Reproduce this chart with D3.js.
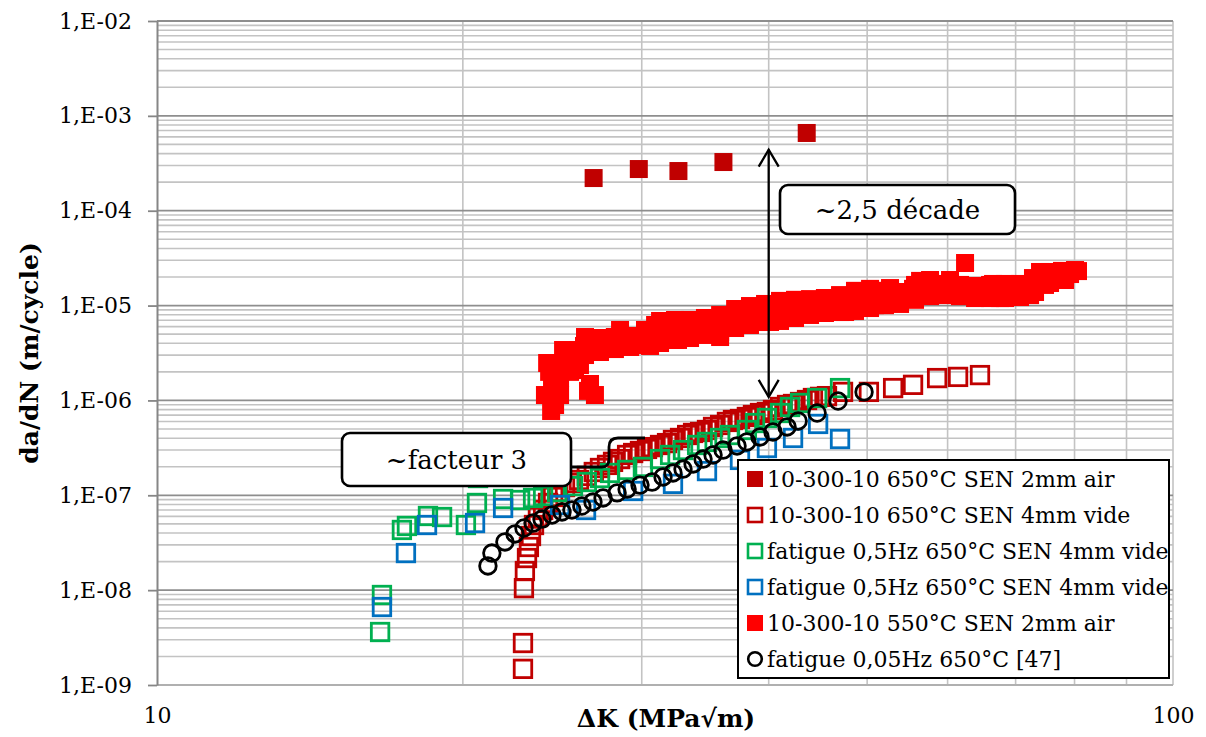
<!DOCTYPE html>
<html><head><meta charset="utf-8">
<script src="https://cdn.jsdelivr.net/npm/d3@7"></script>
<style>
html,body{margin:0;padding:0;background:#fff;}
svg{display:block;font-family:"DejaVu Serif",serif;}
</style></head>
<body><svg id="chart" width="1206" height="737"></svg>
<script>
// ---------- DATA ----------
const yTickValues = [1e-9,1e-8,1e-7,1e-6,1e-5,1e-4,1e-3,1e-2];
const yTickLabels = ["1,E-09","1,E-08","1,E-07","1,E-06","1,E-05","1,E-04","1,E-03","1,E-02"];
const xTickValues = [10,100];
const xTickLabels = ["10","100"];
const seriesNames = [
  "10-300-10 650°C SEN 2mm air",
  "10-300-10 650°C SEN 4mm vide",
  "fatigue 0,5Hz 650°C SEN 4mm vide",
  "fatigue 0,5Hz 650°C SEN 4mm vide",
  "10-300-10 550°C SEN 2mm air",
  "fatigue 0,05Hz 650°C [47]"
];
// [ΔK (MPa√m), da/dN (m/cycle)]
const s650air = [[26.9,2.21e-4],[29.8,2.75e-4],[32.6,2.62e-4],[36.1,3.26e-4],[43.6,6.6e-4]];
const s650vide = [[22.92,1.48e-9],[22.92,2.77e-9],[22.97,1.05e-8],[23.02,1.59e-8],[23.13,2.18e-8],[23.23,2.85e-8],[23.34,3.72e-8],[23.50,4.86e-8],[23.71,5.90e-8],[23.99,7.00e-8],[24.26,8.30e-8],[24.54,9.60e-8],[24.82,1.08e-7],[25.21,1.22e-7],[25.61,1.35e-7],[26.02,1.45e-7],[26.49,1.60e-7],[26.91,1.76e-7],[27.29,1.94e-7],[27.73,2.09e-7],[28.11,2.25e-7],[28.56,2.41e-7],[29.02,2.66e-7],[29.42,2.79e-7],[29.88,2.93e-7],[30.36,3.08e-7],[30.77,3.22e-7],[31.27,3.39e-7],[31.77,3.55e-7],[32.20,3.83e-7],[32.72,4.02e-7],[33.25,4.32e-7],[33.70,4.54e-7],[34.24,4.65e-7],[34.78,4.88e-7],[35.26,5.25e-7],[35.83,5.51e-7],[36.39,5.93e-7],[36.89,6.22e-7],[37.48,6.37e-7],[38.07,6.69e-7],[38.60,7.02e-7],[39.22,7.37e-7],[39.84,7.55e-7],[40.39,7.93e-7],[41.04,8.53e-7],[41.70,8.95e-7],[42.27,9.17e-7],[42.95,9.62e-7],[43.63,1.01e-6],[44.22,1.06e-6],[44.94,1.09e-6],[45.65,1.11e-6],[47.34,1.23e-6],[50.2,1.23e-6],[53.03,1.35e-6],[55.48,1.46e-6],[58.59,1.72e-6],[61.44,1.77e-6],[64.57,1.85e-6]];
const sFat05green = [[16.58,3.62e-9],[16.65,8.89e-9],[17.42,4.31e-8],[17.62,4.75e-8],[18.48,6.05e-8],[19.08,5.90e-8],[20.14,4.86e-8],[20.65,8.30e-8],[20.70,1.52e-7],[21.91,9.14e-8],[22.77,8.92e-8],[23.45,9.37e-8],[23.99,9.84e-8],[24.76,1.08e-7],[25.67,1.25e-7],[26.49,1.38e-7],[27.29,1.52e-7],[27.92,1.72e-7],[29.02,1.85e-7],[30.08,1.99e-7],[31.27,2.41e-7],[31.99,2.66e-7],[32.94,3.00e-7],[34.01,3.39e-7],[34.78,3.65e-7],[35.83,4.02e-7],[36.64,4.32e-7],[38.07,4.88e-7],[38.78,5.78e-7],[39.84,6.53e-7],[41.04,7.37e-7],[41.98,8.53e-7],[42.95,9.40e-7],[44.64,1.06e-6],[47.02,1.35e-6]];
const sFat05blue = [[16.65,6.64e-9],[17.58,2.46e-8],[18.44,4.86e-8],[20.56,5.10e-8],[21.91,7.35e-8],[24.93,7.90e-8],[26.44,7.00e-8],[29.42,1.11e-7],[32.20,1.32e-7],[34.78,1.80e-7],[37.48,2.36e-7],[39.84,3.15e-7],[42.27,4.02e-7],[44.74,5.65e-7],[47.02,3.92e-7]];
const s550air = [[24.43,7.74e-7],[24.54,1.06e-6],[24.71,1.29e-6],[24.21,2.48e-6],[24.32,2.00e-6],[24.48,1.64e-6],[24.82,2.25e-6],[25.27,2.54e-6],[25.61,2.94e-6],[25.96,3.40e-6],[26.32,3.75e-6],[26.56,1.26e-6],[26.68,1.49e-6],[26.68,4.34e-6],[27.04,4.55e-6],[27.48,4.03e-6],[27.92,3.75e-6],[28.23,4.66e-6],[28.88,4.34e-6],[29.54,4.34e-6],[30.22,4.66e-6],[30.57,3.75e-6],[31.27,5.14e-6],[31.77,6.71e-6],[32.13,5.53e-6],[32.57,4.34e-6],[33.32,5.53e-6],[34.01,5.01e-6],[34.70,5.14e-6],[35.42,5.53e-6],[36.24,5.94e-6],[36.64,7.40e-6],[37.48,7.40e-6],[38.16,8.55e-6],[38.95,6.71e-6],[39.67,8.55e-6],[40.57,7.96e-6],[41.31,1.01e-5],[42.27,8.98e-6],[42.95,1.06e-5],[43.93,9.66e-6],[44.74,1.12e-5],[45.76,1.01e-5],[46.81,1.17e-5],[47.88,9.42e-6],[48.64,1.15e-5],[49.43,1.36e-5],[50.10,1.15e-5],[51.24,1.26e-5],[52.30,1.32e-5],[53.51,1.12e-5],[54.49,1.36e-5],[55.48,1.50e-5],[56.37,1.82e-5],[57.41,1.73e-5],[58.32,1.36e-5],[59.65,1.53e-5],[61.02,1.57e-5],[62.42,2.81e-5],[62.85,1.43e-5],[64.14,1.32e-5],[65.31,1.46e-5],[66.51,1.69e-5],[68.04,1.39e-5],[69.12,1.61e-5],[70.38,1.46e-5],[71.67,1.65e-5],[72.81,1.95e-5],[73.98,2.26e-5],[75.34,1.91e-5],[76.55,2.15e-5],[77.76,2.32e-5],[79.19,2.15e-5],[80.09,2.37e-5],
  [24.09,1.14e-6],[24.65,8.95e-7],[25.79,2.09e-6],[25.10,3.40e-6],[28.56,5.53e-6],[29.88,3.84e-6],[30.92,6.24e-6],[34.24,6.71e-6],[35.83,4.66e-6],[38.78,8.98e-6],[40.12,6.71e-6],[41.98,7.40e-6],[45.44,1.20e-5],[47.56,8.55e-6],[50.89,1.01e-5],[52.66,1.53e-5],[57.01,1.32e-5],[60.33,1.86e-5],[61.72,1.26e-5],[67.57,1.20e-5],[72.33,1.29e-5],[74.82,1.65e-5],[78.30,1.86e-5],
  [24.93,1.72e-6],[25.50,2.00e-6],[26.08,2.36e-6],[26.98,1.14e-6],[24.93,1.14e-6],
  [26.38,4.66e-6],[27.29,4.55e-6],[28.23,4.66e-6],[29.22,4.78e-6],[30.22,5.53e-6],[31.27,6.88e-6],[32.35,7.05e-6],[33.47,7.05e-6],[34.62,7.40e-6],[35.83,7.96e-6],[37.07,9.20e-6],[38.34,9.89e-6],[39.67,1.04e-5],[41.04,1.12e-5],[42.46,1.15e-5],[43.93,1.17e-5],[45.44,1.20e-5],[47.02,1.29e-5],[48.64,1.43e-5],[50.33,1.50e-5],[52.06,1.43e-5],[53.87,1.39e-5],[55.73,1.65e-5],[57.66,1.86e-5],[59.65,1.69e-5],[61.72,1.65e-5],[63.85,1.61e-5],[66.06,1.65e-5],[68.34,1.69e-5],[70.70,1.69e-5],[73.15,1.86e-5],[75.68,2.26e-5],[78.30,2.31e-5],[80.63,2.31e-5],
  [26.38,3.01e-6],[27.29,3.24e-6],[28.23,3.48e-6],[29.22,3.66e-6],[30.22,3.84e-6],[31.27,4.03e-6],[32.35,4.34e-6],[33.47,4.55e-6],[34.62,4.90e-6],[35.83,5.27e-6],[37.07,5.80e-6],[38.34,6.24e-6],[39.67,6.71e-6],[41.04,6.88e-6],[42.46,7.40e-6],[43.93,7.96e-6],[45.44,8.35e-6],[47.02,8.55e-6],[48.64,8.77e-6],[50.33,9.42e-6],[52.06,1.01e-5],[53.87,1.04e-5],[55.73,1.15e-5],[57.66,1.26e-5],[59.65,1.29e-5],[61.72,1.26e-5],[63.85,1.20e-5],[66.06,1.20e-5],[68.34,1.20e-5],[70.70,1.23e-5],[73.15,1.39e-5],[75.68,1.73e-5],[78.30,1.99e-5]];
const sFat005 = [[21.17,1.80e-8],[21.36,2.46e-8],[22.00,3.22e-8],[22.51,3.91e-8],[22.97,4.52e-8],[23.45,5.10e-8],[23.93,5.62e-8],[24.48,6.20e-8],[25.04,6.67e-8],[25.61,7.00e-8],[26.19,7.71e-8],[26.86,8.50e-8],[27.48,9.37e-8],[28.37,1.06e-7],[29.02,1.16e-7],[29.88,1.28e-7],[30.71,1.38e-7],[31.48,1.56e-7],[32.20,1.72e-7],[32.94,1.89e-7],[33.70,2.14e-7],[34.47,2.41e-7],[35.26,2.66e-7],[36.07,3.00e-7],[37.23,3.31e-7],[38.07,3.65e-7],[39.22,4.12e-7],[40.39,4.65e-7],[41.70,5.25e-7],[42.76,6.07e-7],[44.64,7.37e-7],[46.81,9.86e-7],[49.65,1.23e-6]];
const annotationTexts = ["~2,5 décade", "~facteur 3"];
const axisTitles = {x: "ΔK (MPa√m)", y: "da/dN (m/cycle)"};

// ---------- CHART ----------
const svg = d3.select("#chart");
const L = 157, R = 1173, T = 21, B = 685;
const x = d3.scaleLog().domain([10,100]).range([L,R]);
const y = d3.scaleLog().domain([1e-9,1e-2]).range([B,T]);

svg.append("rect").attr("width",1206).attr("height",737).attr("fill","#fff");

// grid
const g = svg.append("g");
const minorY = [];
for (let e=-9; e<-2; e++) for (let m=2; m<=9; m++) minorY.push(m*Math.pow(10,e));
g.selectAll(".minY").data(minorY).enter().append("line")
  .attr("x1",L).attr("x2",R).attr("y1",d=>y(d)).attr("y2",d=>y(d))
  .attr("stroke","#c3c3c3").attr("stroke-width",1.6);
const vGrid = [20,30,40,50,60,70,80,90,100];
g.selectAll(".vg").data(vGrid).enter().append("line")
  .attr("x1",d=>x(d)).attr("x2",d=>x(d)).attr("y1",T).attr("y2",B)
  .attr("stroke","#c3c3c3").attr("stroke-width",1.6);
g.selectAll(".majY").data(yTickValues).enter().append("line")
  .attr("x1",L).attr("x2",R).attr("y1",d=>y(d)).attr("y2",d=>y(d))
  .attr("stroke", d=> d===1e-9 ? "#b0b0b0" : "#8e8e8e").attr("stroke-width",1.8);

// y axis
const yAxis = d3.axisLeft(y).tickValues(yTickValues)
  .tickFormat((d,i)=>yTickLabels[i]).tickSize(9).tickSizeOuter(0).tickPadding(16);
const ya = svg.append("g").attr("transform",`translate(${L},0)`).call(yAxis);
ya.select(".domain").attr("stroke","#868686").attr("stroke-width",2);
ya.selectAll(".tick line").attr("stroke","#868686").attr("stroke-width",1.8);
ya.selectAll(".tick text").attr("font-family","DejaVu Serif").attr("font-size",22).attr("fill","#000");

// x axis labels
const xAxis = d3.axisBottom(x).tickValues(xTickValues)
  .tickFormat((d,i)=>xTickLabels[i]).tickSize(0).tickPadding(22);
const xa = svg.append("g").attr("transform",`translate(0,${B})`).call(xAxis);
xa.select(".domain").remove();
xa.selectAll(".tick text").attr("font-family","DejaVu Serif").attr("font-size",22).attr("fill","#000");

// axis titles
svg.append("text").attr("x",666).attr("y",727).attr("text-anchor","middle")
  .attr("font-weight","bold").attr("font-size",25).text(axisTitles.x);
svg.append("text").attr("transform","translate(38,353) rotate(-90)").attr("text-anchor","middle")
  .attr("font-weight","bold").attr("font-size",25).text(axisTitles.y);

// markers
const plot = svg.append("g");
function squares(data, size, fill, stroke, sw){
  plot.append("g").selectAll("rect").data(data).enter().append("rect")
    .attr("x",d=>x(d[0])-size/2).attr("y",d=>y(d[1])-size/2)
    .attr("width",size).attr("height",size)
    .attr("fill",fill).attr("stroke",stroke).attr("stroke-width",sw);
}
squares(s650air, 18, "#C00000", "none", 0);
squares(s650vide, 17.5, "none", "#C00000", 2.8);
squares(sFat05green, 17.5, "none", "#00B050", 2.8);
squares(sFat05blue, 17.5, "none", "#0070C0", 2.8);
squares(s550air, 18, "#FF0000", "none", 0);
plot.append("g").selectAll("circle").data(sFat005).enter().append("circle")
  .attr("cx",d=>x(d[0])).attr("cy",d=>y(d[1])).attr("r",8.3)
  .attr("fill","none").attr("stroke","#000").attr("stroke-width",2.8);

// annotations
const ax = x(40);
const ann = svg.append("g").attr("stroke","#000").attr("fill","none");
const yTop = y(4.4e-4), yBot = y(1.09e-6);
ann.append("line").attr("x1",ax).attr("x2",ax).attr("y1",yTop).attr("y2",yBot).attr("stroke-width",2.3);
ann.append("path").attr("d",`M${ax-10},${yTop+17} L${ax},${yTop} L${ax+10},${yTop+17}`).attr("stroke-width",2.3);
ann.append("path").attr("d",`M${ax-10},${yBot-17} L${ax},${yBot} L${ax+10},${yBot-17}`).attr("stroke-width",2.3);

// brace
ann.append("path").attr("d","M571,467 H602 Q609,467 609,459 V447 Q609,438 618,438 H645").attr("stroke-width",2.8);

function box(x0,y0,w,h,txt){
  svg.append("rect").attr("x",x0).attr("y",y0).attr("width",w).attr("height",h)
    .attr("rx",8).attr("fill","#fff").attr("stroke","#000").attr("stroke-width",2.6);
  svg.append("text").attr("x",x0+w/2).attr("y",y0+h/2).attr("dy","0.36em")
    .attr("text-anchor","middle").attr("font-size",26).text(txt);
}
box(780,185,235,49,annotationTexts[0]);
box(342,433,229,53,annotationTexts[1]);

// legend
const lg = svg.append("g");
lg.append("rect").attr("x",738).attr("y",460).attr("width",431).attr("height",218)
  .attr("fill","#fff").attr("stroke","#000").attr("stroke-width",2);
const legStyles = [
  {t:"sq", fill:"#C00000", stroke:"none"},
  {t:"sq", fill:"none", stroke:"#C00000"},
  {t:"sq", fill:"none", stroke:"#00B050"},
  {t:"sq", fill:"none", stroke:"#0070C0"},
  {t:"sq", fill:"#FF0000", stroke:"none"},
  {t:"ci", fill:"none", stroke:"#000"}
];
seriesNames.forEach((name,i)=>{
  const cy = 479 + i*36;
  const st = legStyles[i];
  if (st.t==="sq"){
    if (st.fill!=="none") lg.append("rect").attr("x",747).attr("y",cy-8).attr("width",16).attr("height",16).attr("fill",st.fill);
    else lg.append("rect").attr("x",748).attr("y",cy-7).attr("width",14).attr("height",14).attr("fill","none").attr("stroke",st.stroke).attr("stroke-width",2.6);
  } else {
    lg.append("circle").attr("cx",755).attr("cy",cy).attr("r",6.8).attr("fill","none").attr("stroke",st.stroke).attr("stroke-width",2.6);
  }
  lg.append("text").attr("x",767).attr("y",cy).attr("dy","0.36em").attr("font-size",22).text(name);
});
</script></body></html>
